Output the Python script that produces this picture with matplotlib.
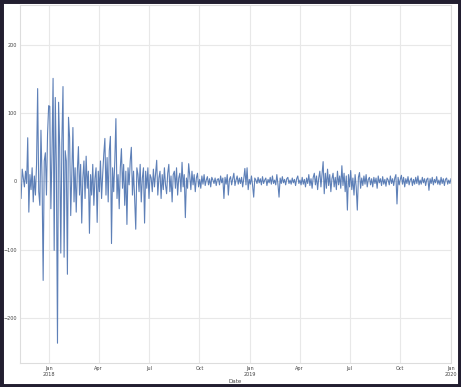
# daily change series, resampled every 2 days
import pandas as pd
import matplotlib
matplotlib.use('Agg')
import matplotlib.pyplot as plt
import matplotlib.dates as mdates
from matplotlib.patches import Rectangle

start_date = '2017-11-09'
end_date = '2020-01-01'

values = [
    12, -25, 18, 5, -8, 15, -3, 64, -45, 10, -12, 20, -30, 8, -20, 25, 136, -15, -35, 75,
    5, -145, 30, 42, -20, 70, 111, 110, -40, 40, 151, -101, 123, 20, -237, 116, 50, -105, 60, 139,
    -111, 45, 30, -136, 94, 64, -50, 10, 79, -30, 20, -45, 15, 51, -20, 25, -61, 5, 30, -25,
    37, -10, 15, -76, 10, -20, 25, -35, 5, 20, -60, 15, -15, 30, -25, 10, 40, 63, -20, 35,
    -30, 45, 66, -91, 20, -15, 30, 92, -25, 10, -40, 20, 48, -10, 25, -35, 15, -63, 20, -5,
    30, 50, -20, 15, -25, -70, 20, 10, -15, 25, -30, 5, 20, -61, 15, -10, 20, -25, 10, 5,
    -15, 18, -8, 12, 31, -20, 5, 15, -25, 10, -12, 20, -5, -18, 12, 25, -15, 8, -30, 10,
    15, -10, 20, -20, 5, 12, -15, 28, -8, 10, -53, 5, -10, 26, 8, -12, 15, -5, 10, -15,
    5, 12, -8, 3, -10, 8, -4, 10, -6, 2, 7, -5, 4, -8, 6, 2, -3, 5, -6, 3,
    4, -5, 8, -2, 5, -25, 6, -4, 10, -20, 3, 7, -5, 4, 12, -6, 2, 8, -4, 5,
    -3, 6, -8, 4, 19, -5, 20, -12, 3, -4, 8, -6, -23, 5, 2, -3, 6, -2, 4, -5,
    7, -3, 2, 5, -6, 3, -2, 6, -4, 8, -3, 2, -5, 10, -4, -23, 5, -3, 7, -2,
    3, -5, 4, 6, -3, 2, -4, 5, -2, 3, -6, 4, 8, -3, 2, -5, 6, -4, 3, -8,
    5, -3, 10, -6, 4, -10, 6, 12, -5, 8, -12, 5, 15, -8, 10, 29, -18, 12, -10, 18,
    -6, 10, -15, 4, 12, -8, 6, -12, 15, -5, 8, -10, 23, -6, 12, -15, 8, -42, 10, -8,
    16, -12, 5, -20, 10, -8, -42, 6, 13, -10, 5, -6, 8, -4, 10, -8, 3, 6, -5, 4,
    -8, 6, -3, 5, -10, 8, -2, 4, -6, 7, -4, 3, -7, 5, 2, -5, 8, -3, 4, -6,
    5, 10, -33, 6, -5, 3, 9, -4, 6, -8, 4, -3, 7, -5, 2, 5, -6, 3, -4, 6,
    -3, 8, -5, 2, -4, 6, -2, 4, -6, 3, 5, -13, 4, -3, 6, -5, 3, -2, 7, -4,
    2, -5, 6, -3, 4, -6, 3, 5, -4, 2, -3, 4,
]

tick_dates = ['2018-01-01', '2018-04-01', '2018-07-01', '2018-10-01', '2019-01-01',
              '2019-04-01', '2019-07-01', '2019-10-01', '2020-01-01']
tick_labels = ['Jan\n2018', 'Apr', 'Jul', 'Oct', 'Jan\n2019', 'Apr', 'Jul', 'Oct', 'Jan\n2020']
y_ticks = [-200, -100, 0, 100, 200]

dates = pd.date_range(start_date, end_date, periods=len(values))

fig = plt.figure(figsize=(4.61, 3.87), dpi=100)
fig.patch.set_facecolor('white')
# dark frame round the whole picture
fig.patches.append(Rectangle((0, 0), 1, 1, transform=fig.transFigure, fill=False,
                             edgecolor='#221e30', linewidth=5, zorder=10))

ax = fig.add_axes([0.0434, 0.062, 0.9349, 0.926])
ax.plot(dates, values, color='#4c72b0', linewidth=0.8, alpha=0.9)

ax.set_xlim(pd.Timestamp(start_date), pd.Timestamp(end_date))
ax.set_ylim(-266, 259)
ax.set_xticks(pd.to_datetime(tick_dates))
ax.set_xticklabels(tick_labels)
ax.set_yticks(y_ticks)
ax.tick_params(labelsize=3.5, colors='#444444', length=0, pad=2)
ax.set_xlabel('Date', fontsize=4, color='#444444', labelpad=2)

ax.grid(True, color='#e8e8e8', linewidth=0.8)
ax.set_axisbelow(True)
for s in ax.spines.values():
    s.set_color('#dddddd')
    s.set_linewidth(0.8)

fig.savefig('out.png', dpi=100)
